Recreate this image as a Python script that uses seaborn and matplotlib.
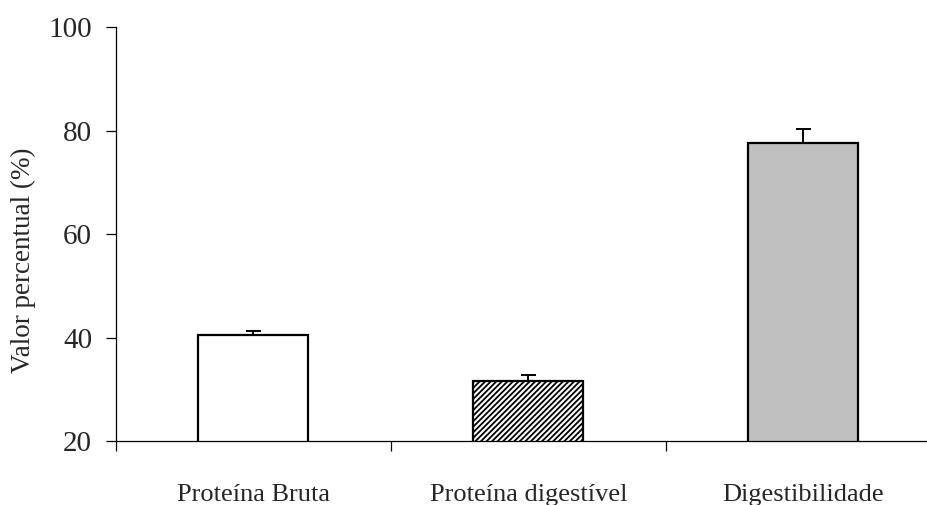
import numpy as np
import pandas as pd
import matplotlib
matplotlib.use("Agg")
import matplotlib.pyplot as plt
import seaborn as sns

# data
categorias = ["Proteína Bruta", "Proteína digestível", "Digestibilidade"]
valores = [40.5, 31.6, 77.6]
erros = [0.7, 1.15, 2.6]
cores = ["#FFFFFF", "#FFFFFF", "#C0C0C0"]

sns.set_style("white")
plt.rcParams["font.family"] = ["Liberation Serif", "DejaVu Serif"]
plt.rcParams["hatch.linewidth"] = 1.3

df = pd.DataFrame({"categoria": categorias, "valor": valores})

fig = plt.figure(figsize=(9.28, 5.05), dpi=100)
ax = fig.add_axes([0.125, 0.1267, 0.875, 0.8198])

sns.barplot(data=df, x="categoria", y="valor", hue="categoria",
            palette=cores, width=0.4, edgecolor="black", linewidth=1.6,
            legend=False, ax=ax, zorder=2)
ax.patches[1].set_hatch("//////")

# upper error bars only
ax.errorbar(np.arange(len(valores)), valores,
            yerr=[np.zeros(len(erros)), erros], fmt="none",
            ecolor="black", elinewidth=1.4, capsize=5.4, capthick=1.4, zorder=3)

ax.set_ylim(20, 100)
ax.set_xlim(-0.5, 2.453)
ax.set_yticks([20, 40, 60, 80, 100])
ax.tick_params(axis="y", direction="out", length=7.2, width=0.9,
               labelsize=21, pad=10, left=True, color="black")

# category labels without ticks, boundary ticks as minor
ax.set_xticks([0, 1, 2])
ax.set_xticklabels(categorias)
ax.tick_params(axis="x", which="major", length=0, labelsize=19, pad=31)
ax.set_xticks([-0.5, 0.5, 1.5], minor=True)
ax.tick_params(axis="x", which="minor", direction="out", length=7.2,
               width=0.9, bottom=True, color="black")

ax.set_xlabel("")
ax.set_ylabel("Valor percentual (%)", fontsize=19.5)
ax.yaxis.set_label_coords(-0.098, 0.437)

for s in ["top", "right"]:
    ax.spines[s].set_visible(False)
for s in ["left", "bottom"]:
    ax.spines[s].set_color("black")
    ax.spines[s].set_linewidth(0.9)
    ax.spines[s].set_zorder(4)

fig.savefig("out.png", dpi=100)
